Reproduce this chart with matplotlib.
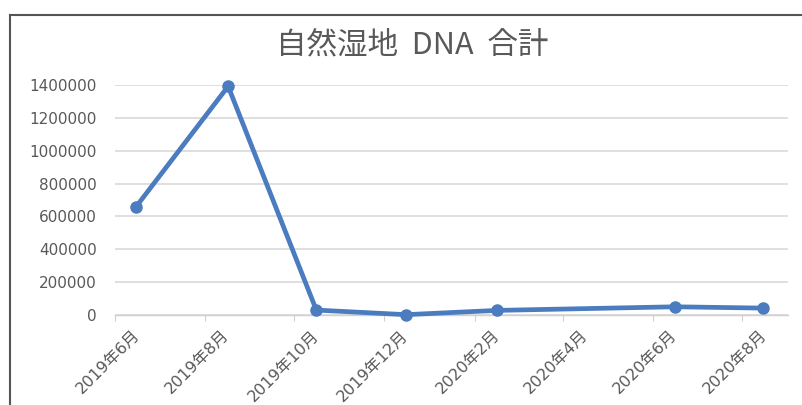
import matplotlib
matplotlib.use("Agg")
import matplotlib.pyplot as plt
from matplotlib.lines import Line2D
import datetime as dt

plt.rcParams['font.family'] = ['DejaVu Sans', 'Noto Sans CJK JP']

# Sampling dates and totals
sample_dates = ["2019-06-15", "2019-08-17", "2019-10-16", "2019-12-16",
                "2020-02-16", "2020-06-16", "2020-08-15"]
dna_total = [655000, 1392000, 30000, 2000, 28000, 50000, 42000]

tick_dates = ["2019-06-01", "2019-08-01", "2019-10-01", "2019-12-01",
              "2020-02-01", "2020-04-01", "2020-06-01", "2020-08-01"]
tick_labels = ["2019年6月", "2019年8月", "2019年10月", "2019年12月",
               "2020年2月", "2020年4月", "2020年6月", "2020年8月"]
y_ticks = [0, 200000, 400000, 600000, 800000, 1000000, 1200000, 1400000]

title = "自然湿地  DNA  合計"

to_date = lambda s: dt.datetime.strptime(s, "%Y-%m-%d")
xs = [to_date(s) for s in sample_dates]
xt = [to_date(s) for s in tick_dates]

fig = plt.figure(figsize=(8.03, 4.05), dpi=100)
ax = fig.add_axes([115/803, 1-315/405, (788-115)/803, (315-85)/405])

blue = "#4a7cbf"
ax.plot(xs, dna_total, color=blue, lw=3.4, marker='o', markersize=8,
        solid_joinstyle='round', zorder=3, clip_on=False)

ax.set_xlim(to_date("2019-06-01"), to_date("2020-09-01"))
ax.set_ylim(0, 1400000)
ax.set_yticks(y_ticks)
ax.set_yticklabels([str(v) for v in y_ticks])
ax.set_xticks(xt)
ax.set_xticklabels([])

# slanted month labels, set a little to the right of their ticks
for d, lab in zip(xt, tick_labels):
    ax.annotate(lab, xy=(d, 0), xycoords=('data', 'axes fraction'),
                xytext=(12, -9), textcoords='offset points',
                rotation=45, ha='right', va='top', rotation_mode='anchor',
                fontsize=11.5, color='#595959', annotation_clip=False)

ax.grid(axis='y', color='#d9d9d9', lw=1.2)
ax.set_axisbelow(True)
for s in ['top', 'right', 'left']:
    ax.spines[s].set_visible(False)
ax.spines['bottom'].set_color('#d0d0d0')
ax.spines['bottom'].set_linewidth(1.0)
ax.tick_params(axis='y', length=0, pad=13, labelsize=11, labelcolor='#595959')
ax.tick_params(axis='x', length=4, color='#d0d0d0')

fig.text(412/803, 1-45/405, title, ha='center', va='center',
         fontsize=22, color='#595959', family=['Noto Sans CJK JP', 'DejaVu Sans'])

# chart frame (top and left edges)
fig.add_artist(Line2D([10/803, 1], [1-15/405, 1-15/405], color='#555555', lw=1.5))
fig.add_artist(Line2D([10/803, 10/803], [0, 1-15/405], color='#555555', lw=1.5))

fig.savefig("out.png", dpi=100)
